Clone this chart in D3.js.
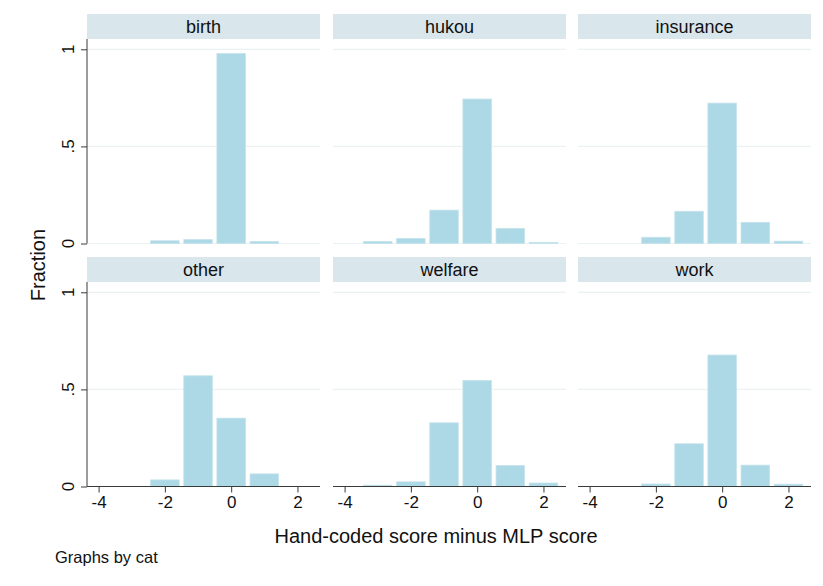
<!DOCTYPE html>
<html>
<head>
<meta charset="utf-8">
<script src="https://cdn.jsdelivr.net/npm/d3@7"></script>
<style>
  html, body { margin: 0; padding: 0; background: #fff; }
  svg { display: block; font-family: "Liberation Sans", Arial, Helvetica, sans-serif; }
</style>
</head>
<body>
<svg id="chart" width="823" height="586"></svg>
<script>
// Histogram of (hand-coded score - MLP score), one panel per category
const categories = ["birth", "hukou", "insurance", "other", "welfare", "work"];
const bins = [-3, -2, -1, 0, 1, 2];
const birth     = [0,     0.014, 0.020, 0.978, 0.010, 0];
const hukou     = [0.010, 0.026, 0.172, 0.744, 0.078, 0.006];
const insurance = [0,     0.032, 0.166, 0.723, 0.109, 0.012];
const other     = [0,     0.034, 0.570, 0.352, 0.065, 0];
const welfare   = [0.007, 0.024, 0.328, 0.546, 0.108, 0.018];
const work      = [0,     0.013, 0.220, 0.677, 0.110, 0.012];
const seriesByCat = { birth, hukou, insurance, other, welfare, work };

const xTicks = [-4, -2, 0, 2];
const xTickLabels = ["-4", "-2", "0", "2"];
const yTicks = [0, 0.5, 1];
const yTickLabels = ["0", ".5", "1"];

const xTitle = "Hand-coded score minus MLP score";
const yTitle = "Fraction";
const note = "Graphs by cat";

// Layout
const colX = [87, 333, 578];
const panelW = 233;
const rowTop = [14, 257];
const stripH = 25;
const plotH = 205;

const stripFill = "#d9e6ec";
const barFill = "#add8e6";
const gridColor = "#eaf2f3";
const axisColor = "#3a3a3a";

const svg = d3.select("#chart");

const x = d3.scaleLinear().domain([-4.35, 2.68]).range([0, panelW]);
const y = d3.scaleLinear().domain([0, 1.053]).range([plotH - 0.5, 0]);

categories.forEach((cat, i) => {
  const col = i % 3, row = Math.floor(i / 3);
  const g = svg.append("g")
    .attr("transform", `translate(${colX[col]},${rowTop[row]})`);

  // strip header
  g.append("rect")
    .attr("x", 0).attr("y", 0)
    .attr("width", panelW).attr("height", stripH)
    .attr("fill", stripFill);
  g.append("text")
    .attr("x", panelW / 2).attr("y", 18.5)
    .attr("text-anchor", "middle")
    .attr("font-size", 18)
    .attr("fill", "#111")
    .text(cat);

  const p = g.append("g").attr("transform", `translate(0,${stripH})`);

  // gridlines
  p.selectAll("line.grid").data(yTicks).join("line")
    .attr("class", "grid")
    .attr("x1", 0).attr("x2", panelW)
    .attr("y1", d => y(d)).attr("y2", d => y(d))
    .attr("stroke", gridColor).attr("stroke-width", 1.2);

  // bars
  const vals = seriesByCat[cat];
  const gap = 2.3;
  p.selectAll("rect.bar").data(bins.map((b, k) => ({ b, v: vals[k] })).filter(d => d.v > 0))
    .join("rect")
    .attr("class", "bar")
    .attr("x", d => x(d.b - 0.5) + gap)
    .attr("width", d => x(d.b + 0.5) - x(d.b - 0.5) - 2 * gap)
    .attr("y", d => y(d.v))
    .attr("height", d => y(0) - y(d.v))
    .attr("fill", barFill)
    .attr("stroke", "#c6e3ec")
    .attr("stroke-width", 0.8);

  // y axis on left column
  if (col === 0) {
    const yAxis = d3.axisLeft(y)
      .tickValues(yTicks)
      .tickSize(6)
      .tickFormat("");
    const ya = p.append("g").call(yAxis);
    ya.select(".domain").attr("d", `M0,0V${y(0)}`).attr("stroke", axisColor);
    ya.selectAll(".tick line").attr("stroke", axisColor);
    yTicks.forEach((t, k) => {
      p.append("text")
        .attr("transform", `translate(-13,${y(t)}) rotate(-90)`)
        .attr("text-anchor", "middle")
        .attr("font-size", 17)
        .attr("fill", "#111")
        .text(yTickLabels[k]);
    });
  }

  // x axis on bottom row
  if (row === 1) {
    const xAxis = d3.axisBottom(x)
      .tickValues(xTicks)
      .tickSize(6)
      .tickPadding(3)
      .tickFormat((d, k) => xTickLabels[k]);
    const xa = p.append("g").attr("transform", `translate(0,${y(0)})`).call(xAxis);
    xa.select(".domain").attr("d", `M0,0H${panelW}`).attr("stroke", axisColor);
    xa.selectAll(".tick line").attr("stroke", axisColor);
    xa.selectAll(".tick text")
      .attr("font-size", 17)
      .attr("fill", "#111")
      .attr("font-family", "Liberation Sans, Arial, sans-serif")
      .attr("dy", "0.71em");
  }
});

// axis titles and note
svg.append("text")
  .attr("x", 436).attr("y", 543)
  .attr("text-anchor", "middle")
  .attr("font-size", 20)
  .attr("fill", "#111")
  .text(xTitle);

svg.append("text")
  .attr("transform", "translate(45,265) rotate(-90)")
  .attr("text-anchor", "middle")
  .attr("font-size", 20)
  .attr("fill", "#111")
  .text(yTitle);

svg.append("text")
  .attr("x", 55).attr("y", 563)
  .attr("font-size", 16.5)
  .attr("fill", "#111")
  .text(note);
</script>
</body>
</html>
